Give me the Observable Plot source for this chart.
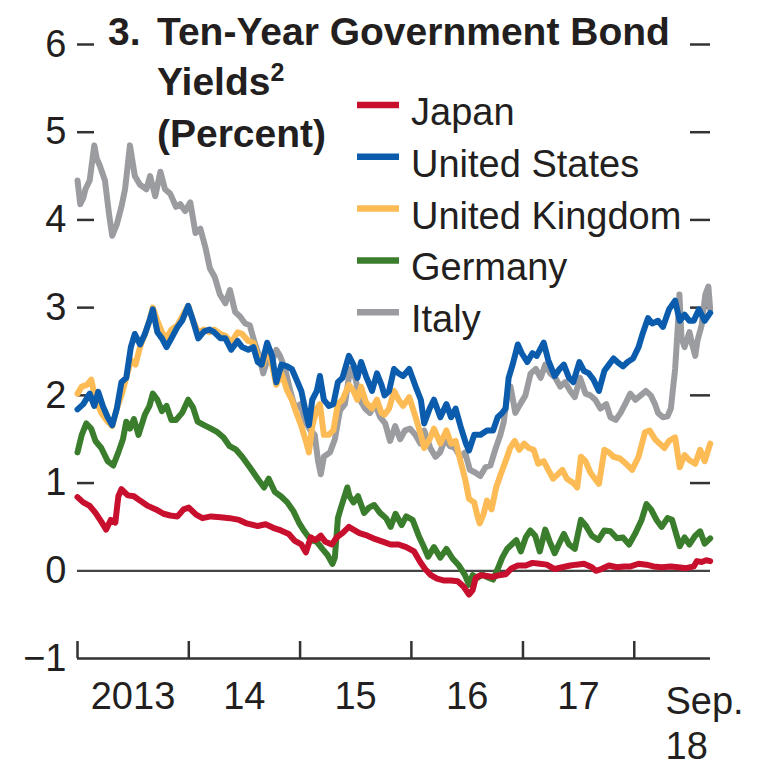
<!DOCTYPE html>
<html><head><meta charset="utf-8">
<script src="https://cdn.jsdelivr.net/npm/d3@7"></script>
<script src="https://cdn.jsdelivr.net/npm/@observablehq/plot@0.6"></script>
<style>body{margin:0;background:#fff;} #chart svg{display:block;}</style>
</head><body><div id="chart"></div>
<script>
const countries = ["Japan","United States","United Kingdom","Germany","Italy"];
const colors = ["#c8102e","#0b5cad","#fdbb55","#3a7d2c","#9b9ca0"];
const drawOrder = ["Italy","Germany","United Kingdom","United States","Japan"];
const yTicks = [-1,0,1,2,3,4,5,6];
const yearStarts = ["2013-01-01","2014-01-01","2015-01-01","2016-01-01","2017-01-01","2018-01-01"];
const yearLabelDates = ["2013-07-02","2014-07-02","2015-07-02","2016-07-02","2017-07-02"];
const yearLabels = ["2013","14","15","16","17"];
const lastLabel = "Sep.\n18";
const xStart = "2013-01-01", xEnd = "2018-09-08";
const titleLines = ["3.","Ten-Year Government Bond","Yields","2","(Percent)"];

const japan = [["2013-01-01",0.84],["2013-01-20",0.78],["2013-02-10",0.74],["2013-03-01",0.66],["2013-03-20",0.56],["2013-04-05",0.47],["2013-04-20",0.58],["2013-05-05",0.55],["2013-05-15",0.85],["2013-05-25",0.93],["2013-06-15",0.86],["2013-07-05",0.85],["2013-07-25",0.80],["2013-08-20",0.74],["2013-09-15",0.70],["2013-10-10",0.65],["2013-11-01",0.63],["2013-11-25",0.62],["2013-12-15",0.70],["2014-01-01",0.72],["2014-01-25",0.64],["2014-02-15",0.60],["2014-03-15",0.62],["2014-04-15",0.61],["2014-05-15",0.60],["2014-06-15",0.58],["2014-07-10",0.54],["2014-08-15",0.51],["2014-09-10",0.53],["2014-10-05",0.49],["2014-10-30",0.46],["2014-11-25",0.42],["2014-12-15",0.34],["2015-01-05",0.30],["2015-01-20",0.21],["2015-02-05",0.38],["2015-02-20",0.35],["2015-03-10",0.40],["2015-03-25",0.33],["2015-04-15",0.30],["2015-05-01",0.38],["2015-05-20",0.43],["2015-06-10",0.50],["2015-06-25",0.47],["2015-07-15",0.43],["2015-08-10",0.40],["2015-09-05",0.36],["2015-10-01",0.33],["2015-10-25",0.30],["2015-11-20",0.30],["2015-12-15",0.27],["2016-01-10",0.22],["2016-01-30",0.10],["2016-02-15",0.02],["2016-03-05",-0.05],["2016-03-25",-0.09],["2016-04-15",-0.11],["2016-05-10",-0.11],["2016-06-01",-0.12],["2016-06-20",-0.18],["2016-07-08",-0.27],["2016-07-20",-0.22],["2016-07-30",-0.08],["2016-08-15",-0.05],["2016-09-05",-0.06],["2016-09-25",-0.07],["2016-10-15",-0.05],["2016-11-05",-0.04],["2016-11-25",0.03],["2016-12-15",0.06],["2017-01-10",0.06],["2017-02-01",0.09],["2017-02-25",0.08],["2017-03-20",0.07],["2017-04-15",0.02],["2017-05-10",0.04],["2017-06-05",0.06],["2017-06-25",0.07],["2017-07-20",0.08],["2017-08-15",0.04],["2017-08-28",0.00],["2017-09-15",0.02],["2017-10-10",0.06],["2017-11-05",0.04],["2017-11-30",0.05],["2017-12-20",0.05],["2018-01-15",0.08],["2018-02-10",0.07],["2018-03-05",0.05],["2018-04-01",0.04],["2018-05-01",0.05],["2018-05-25",0.04],["2018-06-20",0.03],["2018-07-15",0.05],["2018-07-25",0.11],["2018-08-10",0.10],["2018-08-25",0.12],["2018-09-07",0.11]];

const germany = [["2013-01-01",1.35],["2013-01-15",1.55],["2013-01-30",1.68],["2013-02-15",1.62],["2013-03-01",1.48],["2013-03-20",1.40],["2013-04-10",1.25],["2013-04-28",1.20],["2013-05-15",1.35],["2013-05-30",1.50],["2013-06-10",1.70],["2013-06-22",1.62],["2013-07-05",1.73],["2013-07-20",1.55],["2013-08-10",1.78],["2013-08-25",1.88],["2013-09-05",2.02],["2013-09-20",1.95],["2013-10-05",1.82],["2013-10-20",1.88],["2013-11-05",1.72],["2013-11-20",1.72],["2013-12-10",1.80],["2013-12-30",1.95],["2014-01-15",1.86],["2014-01-30",1.70],["2014-02-20",1.66],["2014-03-15",1.62],["2014-04-05",1.58],["2014-04-25",1.52],["2014-05-15",1.42],["2014-06-05",1.38],["2014-06-25",1.30],["2014-07-20",1.18],["2014-08-15",1.05],["2014-09-05",0.95],["2014-09-20",1.05],["2014-10-10",0.90],["2014-10-30",0.85],["2014-11-20",0.78],["2014-12-10",0.68],["2014-12-28",0.55],["2015-01-15",0.45],["2015-02-05",0.35],["2015-02-25",0.33],["2015-03-15",0.25],["2015-04-01",0.18],["2015-04-17",0.08],["2015-04-25",0.15],["2015-05-05",0.60],["2015-05-15",0.72],["2015-06-05",0.95],["2015-06-12",0.85],["2015-06-25",0.78],["2015-07-10",0.85],["2015-07-30",0.66],["2015-08-15",0.72],["2015-09-01",0.75],["2015-09-20",0.66],["2015-10-10",0.60],["2015-10-25",0.50],["2015-11-10",0.65],["2015-11-30",0.52],["2015-12-15",0.62],["2016-01-05",0.58],["2016-01-25",0.40],["2016-02-10",0.28],["2016-02-25",0.16],["2016-03-15",0.27],["2016-04-05",0.15],["2016-04-25",0.25],["2016-05-15",0.14],["2016-06-05",0.06],["2016-06-25",-0.05],["2016-07-08",-0.16],["2016-07-20",-0.05],["2016-08-05",-0.08],["2016-08-20",-0.04],["2016-09-10",-0.08],["2016-09-25",-0.10],["2016-10-10",0.02],["2016-10-25",0.15],["2016-11-10",0.25],["2016-11-25",0.30],["2016-12-10",0.35],["2016-12-25",0.22],["2017-01-10",0.38],["2017-01-25",0.46],["2017-02-10",0.40],["2017-02-25",0.22],["2017-03-15",0.47],["2017-03-30",0.33],["2017-04-15",0.20],["2017-05-01",0.32],["2017-05-15",0.42],["2017-06-01",0.30],["2017-06-20",0.25],["2017-07-10",0.58],["2017-07-25",0.52],["2017-08-15",0.40],["2017-09-05",0.35],["2017-09-25",0.46],["2017-10-15",0.45],["2017-11-05",0.37],["2017-11-25",0.38],["2017-12-15",0.30],["2018-01-05",0.43],["2018-01-25",0.58],["2018-02-10",0.76],["2018-02-25",0.70],["2018-03-15",0.58],["2018-04-01",0.50],["2018-04-20",0.60],["2018-05-05",0.58],["2018-05-20",0.40],["2018-05-30",0.28],["2018-06-15",0.38],["2018-07-01",0.30],["2018-07-20",0.40],["2018-08-05",0.45],["2018-08-20",0.31],["2018-09-07",0.37]];

const unitedStates = [["2013-01-01",1.84],["2013-01-20",1.90],["2013-02-10",2.02],["2013-02-25",1.88],["2013-03-10",2.04],["2013-03-25",1.88],["2013-04-10",1.75],["2013-04-25",1.66],["2013-05-10",1.85],["2013-05-25",2.15],["2013-06-10",2.20],["2013-06-25",2.55],["2013-07-08",2.70],["2013-07-25",2.58],["2013-08-10",2.70],["2013-08-25",2.85],["2013-09-05",2.98],["2013-09-20",2.72],["2013-10-05",2.65],["2013-10-20",2.55],["2013-11-05",2.65],["2013-11-25",2.78],["2013-12-10",2.85],["2013-12-30",3.02],["2014-01-15",2.85],["2014-02-01",2.65],["2014-02-20",2.73],["2014-03-10",2.75],["2014-03-25",2.72],["2014-04-15",2.65],["2014-05-01",2.65],["2014-05-20",2.52],["2014-06-10",2.62],["2014-06-25",2.55],["2014-07-15",2.52],["2014-08-01",2.55],["2014-08-15",2.38],["2014-08-28",2.35],["2014-09-15",2.60],["2014-10-01",2.45],["2014-10-15",2.15],["2014-11-01",2.35],["2014-11-20",2.33],["2014-12-05",2.30],["2014-12-20",2.18],["2015-01-05",2.05],["2015-01-20",1.80],["2015-01-30",1.66],["2015-02-10",1.95],["2015-02-25",2.05],["2015-03-07",2.22],["2015-03-20",1.95],["2015-04-05",1.88],["2015-04-20",1.90],["2015-05-05",2.15],["2015-05-20",2.20],["2015-06-10",2.45],["2015-06-25",2.35],["2015-07-08",2.20],["2015-07-20",2.38],["2015-08-05",2.22],["2015-08-25",2.05],["2015-09-10",2.25],["2015-09-25",2.12],["2015-10-05",2.00],["2015-10-20",2.05],["2015-11-05",2.30],["2015-11-20",2.25],["2015-12-05",2.22],["2015-12-25",2.30],["2016-01-15",2.10],["2016-02-01",1.95],["2016-02-12",1.68],["2016-03-01",1.85],["2016-03-15",1.95],["2016-04-05",1.75],["2016-04-25",1.90],["2016-05-10",1.75],["2016-05-25",1.85],["2016-06-10",1.65],["2016-06-28",1.45],["2016-07-08",1.37],["2016-07-25",1.55],["2016-08-15",1.55],["2016-09-05",1.60],["2016-09-25",1.60],["2016-10-10",1.75],["2016-10-25",1.80],["2016-11-05",1.85],["2016-11-15",2.20],["2016-11-28",2.35],["2016-12-15",2.58],["2016-12-28",2.48],["2017-01-15",2.38],["2017-02-01",2.48],["2017-02-15",2.45],["2017-03-10",2.60],["2017-03-25",2.40],["2017-04-15",2.22],["2017-05-01",2.30],["2017-05-15",2.35],["2017-06-01",2.20],["2017-06-15",2.15],["2017-07-05",2.38],["2017-07-20",2.28],["2017-08-05",2.25],["2017-08-20",2.18],["2017-09-07",2.05],["2017-09-25",2.28],["2017-10-10",2.35],["2017-10-25",2.42],["2017-11-10",2.37],["2017-11-25",2.33],["2017-12-10",2.38],["2017-12-28",2.42],["2018-01-15",2.55],["2018-01-30",2.72],["2018-02-15",2.88],["2018-03-01",2.82],["2018-03-20",2.85],["2018-04-05",2.78],["2018-04-25",2.98],["2018-05-15",3.08],["2018-05-30",2.85],["2018-06-15",2.92],["2018-07-01",2.85],["2018-07-15",2.85],["2018-08-01",2.98],["2018-08-20",2.85],["2018-09-07",2.94]];

const unitedKingdom = [["2013-01-01",2.02],["2013-01-15",2.10],["2013-02-01",2.12],["2013-02-15",2.18],["2013-03-01",1.95],["2013-03-20",1.80],["2013-04-10",1.70],["2013-04-25",1.65],["2013-05-10",1.85],["2013-05-25",2.00],["2013-06-10",2.20],["2013-06-25",2.40],["2013-07-10",2.35],["2013-07-25",2.55],["2013-08-10",2.70],["2013-08-25",2.85],["2013-09-05",3.00],["2013-09-20",2.85],["2013-10-05",2.72],["2013-10-20",2.65],["2013-11-05",2.75],["2013-11-25",2.80],["2013-12-10",2.90],["2013-12-30",3.02],["2014-01-15",2.85],["2014-02-01",2.72],["2014-02-20",2.75],["2014-03-10",2.72],["2014-03-25",2.75],["2014-04-15",2.70],["2014-05-01",2.68],["2014-05-20",2.60],["2014-06-10",2.72],["2014-06-25",2.70],["2014-07-15",2.62],["2014-08-01",2.60],["2014-08-15",2.45],["2014-09-01",2.35],["2014-09-15",2.55],["2014-10-01",2.35],["2014-10-15",2.12],["2014-11-01",2.25],["2014-11-20",2.05],["2014-12-05",1.95],["2014-12-20",1.80],["2015-01-05",1.65],["2015-01-20",1.48],["2015-01-30",1.35],["2015-02-10",1.65],["2015-02-25",1.85],["2015-03-07",1.90],["2015-03-20",1.55],["2015-04-05",1.55],["2015-04-20",1.60],["2015-05-05",1.90],["2015-05-20",1.95],["2015-06-10",2.12],["2015-06-25",2.05],["2015-07-08",1.95],["2015-07-20",2.10],["2015-08-05",1.92],["2015-08-25",1.85],["2015-09-10",1.95],["2015-09-25",1.80],["2015-10-05",1.78],["2015-10-20",1.85],["2015-11-05",2.05],["2015-11-20",1.95],["2015-12-05",1.88],["2015-12-25",1.98],["2016-01-15",1.75],["2016-02-01",1.55],["2016-02-12",1.40],["2016-03-01",1.50],["2016-03-15",1.62],["2016-04-05",1.45],["2016-04-25",1.60],["2016-05-10",1.45],["2016-05-25",1.48],["2016-06-10",1.25],["2016-06-25",1.05],["2016-07-08",0.82],["2016-07-25",0.78],["2016-08-05",0.62],["2016-08-12",0.54],["2016-08-25",0.65],["2016-09-05",0.80],["2016-09-20",0.70],["2016-10-05",0.95],["2016-10-20",1.10],["2016-11-05",1.25],["2016-11-20",1.40],["2016-12-05",1.48],["2016-12-20",1.38],["2017-01-05",1.45],["2017-01-20",1.40],["2017-02-05",1.38],["2017-02-20",1.22],["2017-03-10",1.25],["2017-03-25",1.15],["2017-04-10",1.05],["2017-04-25",1.10],["2017-05-10",1.15],["2017-05-25",1.05],["2017-06-15",1.00],["2017-06-28",0.95],["2017-07-10",1.30],["2017-07-25",1.25],["2017-08-10",1.12],["2017-08-25",1.05],["2017-09-07",0.99],["2017-09-25",1.38],["2017-10-10",1.35],["2017-10-25",1.30],["2017-11-15",1.28],["2017-12-05",1.22],["2017-12-25",1.15],["2018-01-15",1.30],["2018-02-05",1.58],["2018-02-20",1.60],["2018-03-10",1.50],["2018-03-25",1.45],["2018-04-10",1.40],["2018-04-25",1.48],["2018-05-15",1.52],["2018-05-30",1.18],["2018-06-15",1.32],["2018-07-01",1.26],["2018-07-20",1.22],["2018-08-05",1.38],["2018-08-20",1.25],["2018-09-07",1.45]];

const italy = [["2013-01-01",4.45],["2013-01-10",4.18],["2013-01-20",4.25],["2013-01-27",4.35],["2013-02-10",4.45],["2013-02-25",4.85],["2013-03-05",4.70],["2013-03-15",4.62],["2013-04-01",4.45],["2013-04-15",4.05],["2013-04-25",3.82],["2013-05-10",3.95],["2013-05-25",4.15],["2013-06-06",4.35],["2013-06-22",4.85],["2013-07-08",4.50],["2013-07-25",4.40],["2013-08-15",4.35],["2013-08-27",4.50],["2013-09-13",4.27],["2013-09-30",4.55],["2013-10-15",4.35],["2013-11-01",4.30],["2013-11-20",4.15],["2013-12-04",4.18],["2013-12-20",4.10],["2014-01-06",4.20],["2014-01-23",3.85],["2014-02-08",3.90],["2014-02-25",3.68],["2014-03-11",3.45],["2014-03-27",3.35],["2014-04-13",3.15],["2014-05-01",3.05],["2014-05-16",3.20],["2014-06-02",2.95],["2014-06-18",2.90],["2014-07-05",2.82],["2014-07-20",2.80],["2014-08-05",2.60],["2014-08-20",2.45],["2014-09-02",2.25],["2014-09-15",2.40],["2014-10-01",2.38],["2014-10-15",2.52],["2014-10-27",2.45],["2014-11-13",2.30],["2014-11-30",2.05],["2014-12-16",1.85],["2015-01-02",1.90],["2015-01-18",1.70],["2015-02-04",1.60],["2015-02-18",1.55],["2015-03-01",1.25],["2015-03-10",1.10],["2015-03-20",1.30],["2015-04-09",1.35],["2015-04-25",1.50],["2015-05-12",1.83],["2015-05-28",1.90],["2015-06-14",2.30],["2015-07-01",2.20],["2015-07-16",1.95],["2015-08-02",1.85],["2015-08-18",1.80],["2015-09-04",1.90],["2015-09-21",1.75],["2015-10-07",1.68],["2015-10-23",1.48],["2015-11-09",1.65],["2015-11-25",1.50],["2015-12-11",1.60],["2015-12-28",1.62],["2016-01-14",1.55],["2016-01-31",1.45],["2016-02-12",1.60],["2016-03-03",1.40],["2016-03-20",1.30],["2016-04-04",1.35],["2016-04-20",1.50],["2016-05-07",1.42],["2016-05-23",1.40],["2016-06-09",1.30],["2016-06-25",1.35],["2016-07-11",1.15],["2016-07-28",1.12],["2016-08-14",1.08],["2016-08-31",1.18],["2016-09-16",1.20],["2016-10-02",1.38],["2016-10-19",1.55],["2016-10-30",1.70],["2016-11-10",2.00],["2016-11-21",2.10],["2016-12-07",1.80],["2016-12-23",1.90],["2017-01-09",2.00],["2017-01-26",2.25],["2017-02-12",2.30],["2017-02-28",2.20],["2017-03-15",2.35],["2017-04-01",2.25],["2017-04-17",2.20],["2017-05-03",2.10],["2017-05-19",2.15],["2017-06-05",2.05],["2017-06-20",1.98],["2017-07-07",2.20],["2017-07-25",2.02],["2017-08-10",2.00],["2017-08-26",1.95],["2017-09-12",1.85],["2017-10-01",1.90],["2017-10-15",1.75],["2017-11-01",1.72],["2017-11-17",1.80],["2017-12-05",1.92],["2017-12-19",2.02],["2018-01-05",1.95],["2018-01-22",2.00],["2018-02-08",2.05],["2018-02-24",2.00],["2018-03-10",1.90],["2018-03-20",1.80],["2018-04-05",1.75],["2018-04-20",1.76],["2018-05-01",1.85],["2018-05-15",2.30],["2018-05-25",2.85],["2018-05-29",3.15],["2018-06-05",2.65],["2018-06-15",2.55],["2018-07-01",2.72],["2018-07-10",2.58],["2018-07-20",2.45],["2018-07-27",2.62],["2018-08-10",2.80],["2018-08-22",3.15],["2018-09-01",3.24],["2018-09-07",2.98]];

const seriesByCountry = {"Japan": japan, "United States": unitedStates, "United Kingdom": unitedKingdom, "Germany": germany, "Italy": italy};
const rows = drawOrder.flatMap(c => seriesByCountry[c].map(([d, v]) => ({country: c, date: new Date(d), value: v})));

const W = 767, H = 766;
const mL = 77, mR = 57, mT = 44, mB = 108;
const frameW = W - mL - mR, frameH = H - mT - mB;
const font = "'Liberation Sans', Arial, Helvetica, sans-serif";
const ink = "#231f20";
const labelMap = new Map(yearLabelDates.map((d, i) => [+new Date(d), yearLabels[i]]));
const fmtY = d => d < 0 ? "\u2212" + Math.abs(d) : String(d);

const plot = Plot.plot({
  width: W, height: H,
  marginLeft: mL, marginRight: mR, marginTop: mT, marginBottom: mB,
  style: {fontFamily: font, fontSize: "38px", color: ink, background: "#fff"},
  x: {type: "utc", domain: [new Date(xStart), new Date(xEnd)]},
  y: {domain: [-1, 6]},
  color: {domain: countries, range: colors},
  marks: [
    Plot.axisY(yTicks, {tickSize: 0, tickPadding: 11, fontSize: 38, fill: ink, tickFormat: fmtY, label: null}),
    Plot.ruleY(yTicks.filter(d => d > 0), {insetRight: frameW - 17, stroke: "#333", strokeWidth: 2.5}),
    Plot.ruleY(yTicks.filter(d => d > 0), {insetLeft: frameW - 20, stroke: "#333", strokeWidth: 2.5}),
    Plot.ruleY([0], {stroke: "#444", strokeWidth: 2.2}),
    Plot.ruleY([-1], {stroke: "#333", strokeWidth: 2.5}),
    Plot.ruleX(yearStarts.map(d => new Date(d)), {insetTop: frameH - 17, stroke: "#333", strokeWidth: 2.5}),
    Plot.axisX(yearLabelDates.map(d => new Date(d)), {tickSize: 0, tickPadding: 24, fontSize: 38, fill: ink, tickFormat: d => labelMap.get(+d), label: null}),
    Plot.text([lastLabel], {x: () => new Date(xEnd), frameAnchor: "bottom", lineAnchor: "top", textAnchor: "start", dx: -45, dy: 23, fontSize: 38, lineHeight: 1.2, fill: ink}),
    Plot.line(rows, {x: "date", y: "value", z: "country", stroke: "country", strokeWidth: 6, strokeLinejoin: "round", curve: "linear"})
  ]
});

const svg = d3.select(plot);
const g = svg.append("g").attr("font-family", font).attr("fill", ink).attr("text-anchor", "start");
const t1 = g.append("text").attr("font-weight", "bold").attr("font-size", 39);
t1.append("tspan").attr("x", 108).attr("y", 45).text(titleLines[0]);
t1.append("tspan").attr("x", 157).attr("y", 45).text(titleLines[1]);
const t2 = g.append("text").attr("font-weight", "bold").attr("font-size", 39).attr("x", 157).attr("y", 95);
t2.append("tspan").text(titleLines[2]);
t2.append("tspan").attr("font-size", 25).attr("dy", -14).text(titleLines[3]);
g.append("text").attr("font-weight", "bold").attr("font-size", 39).attr("x", 157).attr("y", 147).text(titleLines[4]);

countries.forEach((c, i) => {
  const base = 125 + i * 51.8;
  g.append("line").attr("x1", 357).attr("x2", 399).attr("y1", base - 20).attr("y2", base - 20)
    .attr("stroke", colors[i]).attr("stroke-width", 6.5);
  g.append("text").attr("x", 411).attr("y", base).attr("font-size", 38).text(c);
});

document.getElementById("chart").appendChild(plot);
</script>
</body></html>
